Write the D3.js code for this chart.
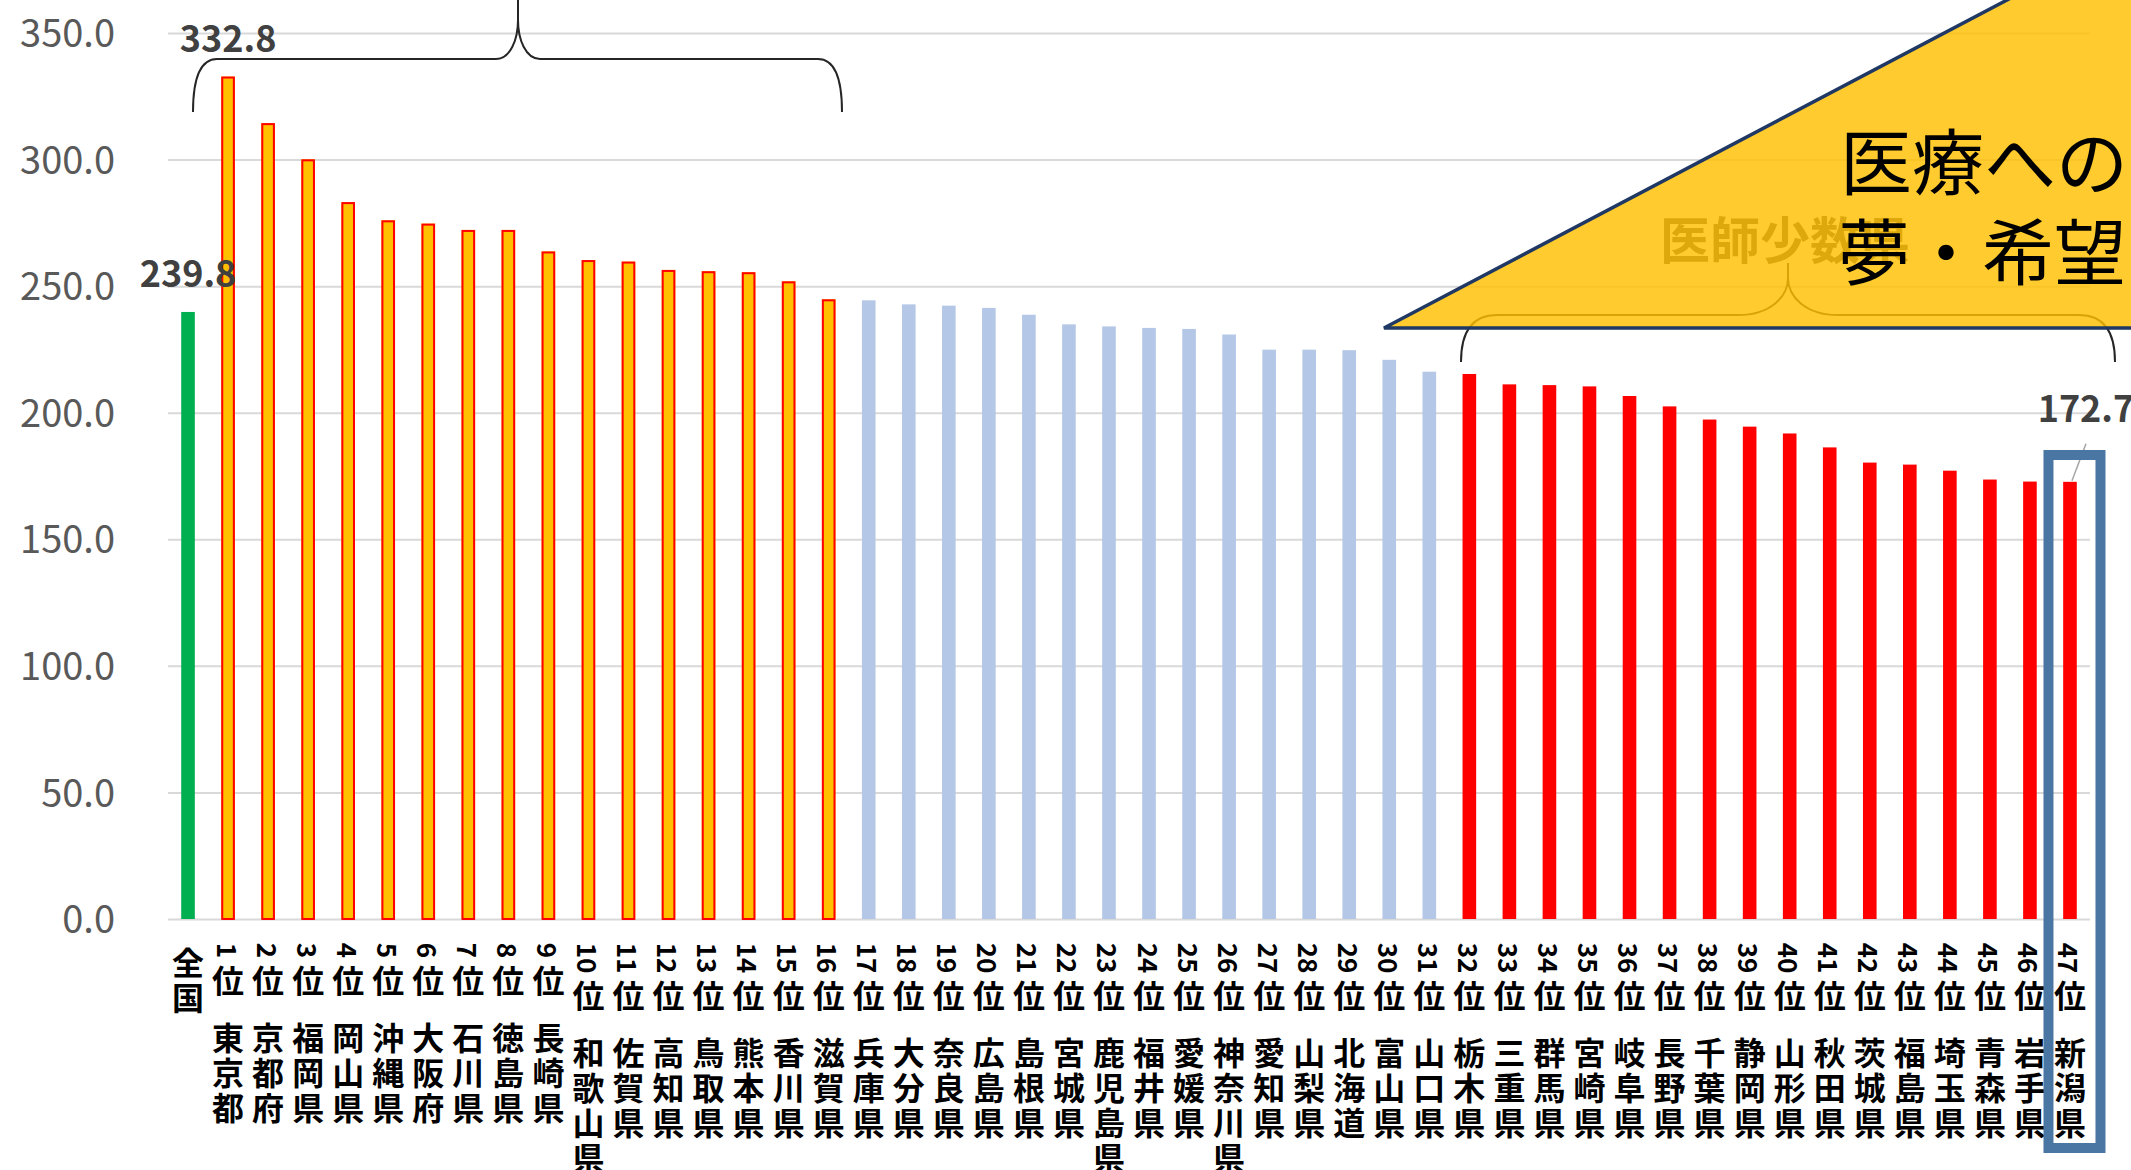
<!DOCTYPE html>
<html lang="ja">
<head>
<meta charset="utf-8">
<script src="https://cdn.jsdelivr.net/npm/d3@7"></script>
<style>
  html, body { margin: 0; padding: 0; background: #fff; }
  svg { display: block; font-family: "Noto Sans CJK JP", "Noto Sans", sans-serif; }
</style>
</head>
<body>
<svg id="chart" width="2131" height="1170"></svg>
<script>
// 順位ラベル
var ranks = ["全国",
  "1位","2位","3位","4位","5位","6位","7位","8位","9位","10位",
  "11位","12位","13位","14位","15位","16位","17位","18位","19位","20位",
  "21位","22位","23位","24位","25位","26位","27位","28位","29位","30位",
  "31位","32位","33位","34位","35位","36位","37位","38位","39位","40位",
  "41位","42位","43位","44位","45位","46位","47位"];

var prefs = ["",
  "東京都","京都府","福岡県","岡山県","沖縄県","大阪府","石川県","徳島県","長崎県","和歌山県",
  "佐賀県","高知県","鳥取県","熊本県","香川県","滋賀県","兵庫県","大分県","奈良県","広島県",
  "島根県","宮城県","鹿児島県","福井県","愛媛県","神奈川県","愛知県","山梨県","北海道","富山県",
  "山口県","栃木県","三重県","群馬県","宮崎県","岐阜県","長野県","千葉県","静岡県","山形県",
  "秋田県","茨城県","福島県","埼玉県","青森県","岩手県","新潟県"];

var values = [239.8,
  332.8, 314.4, 300.1, 283.2, 276.0, 274.7, 272.2, 272.2, 263.7, 260.3,
  259.7, 256.4, 255.9, 255.5, 251.9, 244.8, 244.4, 242.8, 242.3, 241.4,
  238.7, 234.9, 234.1, 233.5, 233.1, 230.9, 224.9, 224.9, 224.7, 220.9,
  216.2, 215.3, 211.2, 210.9, 210.4, 206.6, 202.5, 197.3, 194.5, 191.8,
  186.3, 180.3, 179.5, 177.1, 173.6, 172.8, 172.7];

// 全国 / 医師多数 / 中間 / 医師少数
var groups = ["全国"]
  .concat(Array(16).fill("多数"))
  .concat(Array(15).fill("中間"))
  .concat(Array(16).fill("少数"));

var yTicks = [0, 50, 100, 150, 200, 250, 300, 350];

var svg = d3.select("#chart");

var plotLeft = 168, plotRight = 2090, plotTop = 33, plotBottom = 919;

var x = d3.scaleBand()
    .domain(ranks)
    .range([plotLeft, plotRight])
    .paddingInner(0.66)
    .paddingOuter(0.33);

var y = d3.scaleLinear()
    .domain([0, 350])
    .range([plotBottom, plotTop]);

// 目盛線
var yAxis = svg.append("g")
    .attr("transform", "translate(" + plotLeft + ",0)")
    .call(d3.axisLeft(y)
        .tickValues(yTicks)
        .tickFormat(d3.format(".1f"))
        .tickSize(-(plotRight - plotLeft))
        .tickPadding(53));

yAxis.select(".domain").remove();
yAxis.selectAll("line")
    .attr("stroke", "#D9D9D9")
    .attr("stroke-width", 2);
yAxis.selectAll("text")
    .attr("fill", "#595959")
    .style("font-size", "38px")
    .style("font-family", "'Noto Sans CJK JP', sans-serif")
    .attr("dy", "0.36em");

// 棒
var fills = { "全国": "#00B050", "多数": "#FFC000", "中間": "#B4C7E7", "少数": "#FF0000" };

svg.append("g")
    .selectAll("rect")
    .data(ranks)
    .enter()
    .append("rect")
    .attr("x", function(d) { return x(d); })
    .attr("y", function(d, i) { return y(values[i]); })
    .attr("width", x.bandwidth())
    .attr("height", function(d, i) { return y(0) - y(values[i]); })
    .attr("fill", function(d, i) { return fills[groups[i]]; });

// 多数県の棒は赤枠
svg.append("g")
    .selectAll("rect")
    .data(ranks.filter(function(d, i) { return groups[i] == "多数"; }))
    .enter()
    .append("rect")
    .attr("x", function(d) { return x(d) + 1; })
    .attr("y", function(d) { return y(values[ranks.indexOf(d)]) + 1; })
    .attr("width", x.bandwidth() - 2)
    .attr("height", function(d) { return y(0) - y(values[ranks.indexOf(d)]) - 1; })
    .attr("fill", "none")
    .attr("stroke", "#FF0000")
    .attr("stroke-width", 2);

// データラベル
var labelG = svg.append("g")
    .style("font-size", "36px")
    .style("font-weight", "bold")
    .attr("fill", "#404040");

labelG.append("text")
    .attr("x", x(ranks[0]) + x.bandwidth() / 2)
    .attr("y", y(values[0]) - 41)
    .attr("text-anchor", "middle")
    .attr("dominant-baseline", "central")
    .text(values[0].toFixed(1));

labelG.append("text")
    .attr("x", x(ranks[1]) + x.bandwidth() / 2)
    .attr("y", y(values[1]) - 41)
    .attr("text-anchor", "middle")
    .attr("dominant-baseline", "central")
    .text(values[1].toFixed(1));

var lastX = x(ranks[47]) + x.bandwidth() / 2;
labelG.append("text")
    .attr("x", lastX + 16)
    .attr("y", y(values[47]) - 76)
    .attr("text-anchor", "middle")
    .attr("dominant-baseline", "central")
    .text(values[47].toFixed(1));

svg.append("line")
    .attr("x1", lastX + 16)
    .attr("y1", y(values[47]) - 38)
    .attr("x2", lastX + 2)
    .attr("y2", y(values[47]) - 1)
    .attr("stroke", "#A6A6A6")
    .attr("stroke-width", 1.5);

// 横軸ラベル(縦書き)
var CH = 35, DIG = 15;

function stackText(g, cx, yStart, str) {
    var yy = yStart;
    var i = 0;
    while (i < str.length) {
        if (/[0-9]/.test(str[i])) {
            var run = "";
            while (i < str.length && /[0-9]/.test(str[i])) {
                run += str[i];
                i = i + 1;
            }
            var len = run.length * DIG;
            g.append("text")
                .attr("transform", "translate(" + cx + "," + (yy + len / 2) + ") rotate(90)")
                .attr("text-anchor", "middle")
                .attr("dominant-baseline", "central")
                .style("font-size", "26px")
                .text(run);
            yy = yy + len + 3;
        } else {
            g.append("text")
                .attr("x", cx)
                .attr("y", yy + CH / 2)
                .attr("text-anchor", "middle")
                .attr("dominant-baseline", "central")
                .text(str[i]);
            yy = yy + CH;
            i = i + 1;
        }
    }
    return yy;
}

var xLab = svg.append("g")
    .style("font-size", "32px")
    .style("font-weight", "bold")
    .attr("fill", "#000");

ranks.forEach(function(r, i) {
    var cx = x(r) + x.bandwidth() / 2;
    var end = stackText(xLab, cx, 943, r);
    if (prefs[i] != "") {
        stackText(xLab, cx, end + 22, prefs[i]);
    }
});

// 波括弧
function bracePath(x0, x1, xc, yEnd, yLine, yCusp, yTip, cw, tw) {
    return [
        "M", x0, yEnd,
        "C", x0, yLine + (yEnd - yLine) * 0.35, x0 + cw * 0.3, yLine, x0 + cw, yLine,
        "L", xc - tw, yLine,
        "C", xc - tw * 0.35, yLine, xc, yLine - (yLine - yCusp) * 0.5, xc, yCusp,
        "L", xc, yTip,
        "M", xc, yCusp,
        "C", xc, yLine - (yLine - yCusp) * 0.5, xc + tw * 0.35, yLine, xc + tw, yLine,
        "L", x1 - cw, yLine,
        "C", x1 - cw * 0.3, yLine, x1, yLine + (yEnd - yLine) * 0.35, x1, yEnd
    ].join(" ");
}

svg.append("path")
    .attr("d", bracePath(193, 842, 518, 112, 59, 20, -2, 24, 22))
    .attr("fill", "none")
    .attr("stroke", "#262626")
    .attr("stroke-width", 2);

svg.append("path")
    .attr("d", bracePath(1461, 2115, 1788, 362, 315, 278, 263, 36, 50))
    .attr("fill", "none")
    .attr("stroke", "#262626")
    .attr("stroke-width", 2);

svg.append("text")
    .attr("x", 1660)
    .attr("y", 237)
    .attr("dominant-baseline", "central")
    .style("font-size", "50px")
    .style("font-weight", "bold")
    .attr("fill", "#404040")
    .text("医師少数県");

// 吹き出しの三角形
svg.append("path")
    .attr("d", "M1384,328 L2026,-10 L2150,-10 L2150,328 Z")
    .attr("fill", "#FFC000")
    .attr("fill-opacity", 0.82)
    .attr("stroke", "#1F3864")
    .attr("stroke-width", 3.5)
    .attr("stroke-linejoin", "miter");

var triText = svg.append("g")
    .style("font-size", "72px")
    .attr("fill", "#000");

triText.append("text")
    .attr("x", 1840)
    .attr("y", 157)
    .attr("dominant-baseline", "central")
    .text("医療への");

triText.append("text")
    .attr("x", 1838)
    .attr("y", 247)
    .attr("dominant-baseline", "central")
    .text("夢・希望");

// 新潟県の枠
svg.append("rect")
    .attr("x", lastX - 21.5)
    .attr("y", 455)
    .attr("width", 52)
    .attr("height", 693)
    .attr("fill", "none")
    .attr("stroke", "#4A76A3")
    .attr("stroke-width", 10);
</script>
</body>
</html>
